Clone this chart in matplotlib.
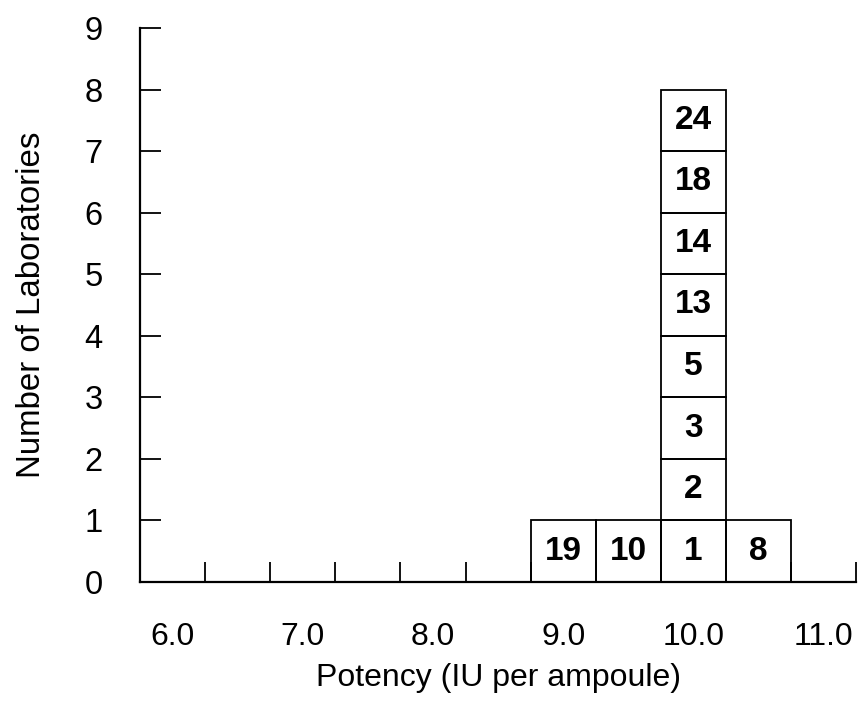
import numpy as np
import matplotlib.pyplot as plt
from matplotlib.ticker import FixedLocator

plt.rcParams['font.family'] = ['Liberation Sans', 'DejaVu Sans']

# bin centres (IU per ampoule) and the laboratory codes stacked in each bin
bin_centres = [9.0, 9.5, 10.0, 10.5]
bin_labs = [
    [19],
    [10],
    [1, 2, 3, 5, 13, 14, 18, 24],
    [8],
]
bin_width = 0.5

x_labels = ['6.0', '7.0', '8.0', '9.0', '10.0', '11.0']
x_label_pos = [6.0, 7.0, 8.0, 9.0, 10.0, 11.0]
y_ticks = list(range(0, 10))

fig = plt.figure(figsize=(8.59, 7.04), dpi=100)
ax = fig.add_axes([0.163, 0.1733, 0.8337, 0.787])

for centre, labs in zip(bin_centres, bin_labs):
    for i, lab in enumerate(labs):
        ax.bar(centre, 1, width=bin_width, bottom=i, fill=False,
               edgecolor='black', linewidth=1.3)
        ax.text(centre, i + 0.5, str(lab), ha='center', va='center',
                fontsize=24, fontweight='bold')

ax.set_xlim(5.75, 11.25)
ax.set_ylim(0, 9)

ax.spines['top'].set_visible(False)
ax.spines['right'].set_visible(False)
for s in ('left', 'bottom'):
    ax.spines[s].set_linewidth(1.6)

# labels at bin centres, tick marks at bin edges
ax.xaxis.set_major_locator(FixedLocator(x_label_pos))
ax.set_xticklabels(x_labels)
ax.xaxis.set_minor_locator(FixedLocator(np.arange(6.25, 11.26, 0.5)))
ax.tick_params(axis='x', which='major', length=0, pad=29, labelsize=23)
ax.tick_params(axis='x', which='minor', direction='in', length=14.5, width=1.3)

ax.set_yticks(y_ticks)
ax.tick_params(axis='y', direction='in', length=15, width=1.3, pad=27,
               labelsize=23.5)

ax.set_xlabel('Potency (IU per ampoule)', fontsize=23, labelpad=8)
ax.set_ylabel('Number of Laboratories', fontsize=23.8, labelpad=27)

fig.savefig('out.png', dpi=100)
